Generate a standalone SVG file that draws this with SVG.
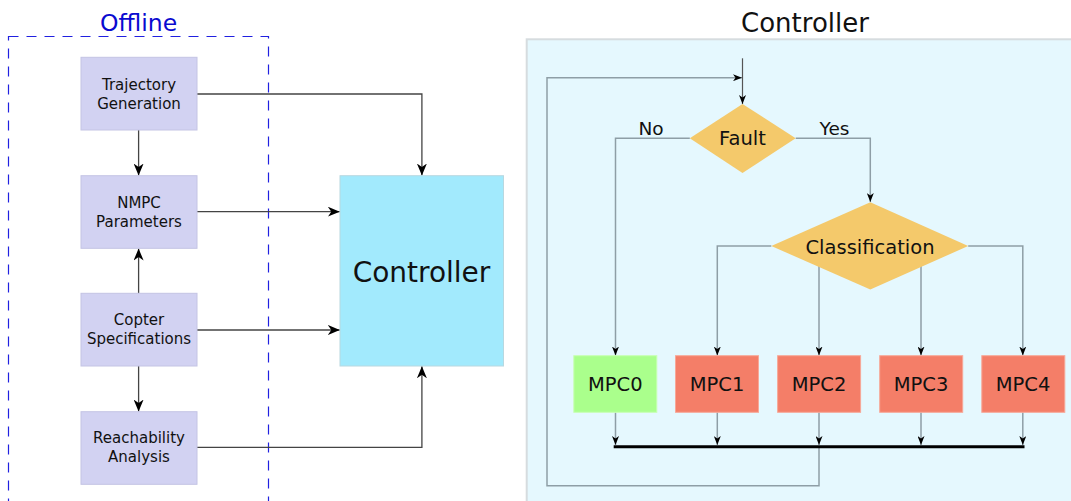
<svg xmlns="http://www.w3.org/2000/svg" width="1071" height="501" viewBox="0 0 1071 501">
<defs>
<style>
text{font-family:"DejaVu Sans","Liberation Sans",sans-serif;fill:#111;text-anchor:middle}
.off{fill:#d2d2f2;stroke:#c4c4e4;stroke-width:1}
.lc{fill:none;stroke:#444;stroke-width:1.3}
.rc{fill:none;stroke:#8e9ea6;stroke-width:1.5}
.dia{fill:#f4c96b}
.red{fill:#f47e68;stroke:#f7a898;stroke-width:1}
.grn{fill:#aaff8c;stroke:#c8ffb4;stroke-width:1}
.nt{font-size:15px}
.mt{font-size:19.5px}
</style>
<marker id="a1" viewBox="0 0 12 10" markerWidth="12" markerHeight="10" refX="12" refY="5" orient="auto" markerUnits="userSpaceOnUse">
<path d="M0,0 L12,5 L0,10 L3.5,5 z" fill="#000"/>
</marker>
<marker id="a2" viewBox="0 0 9 7" markerWidth="9" markerHeight="7" refX="9" refY="3.5" orient="auto" markerUnits="userSpaceOnUse">
<path d="M0,0 L9,3.5 L0,7 L2.5,3.5 z" fill="#000"/>
</marker>
</defs>
<rect width="1071" height="501" fill="#fff"/>

<g id="offline-group">
<rect x="8.5" y="36.5" width="260" height="480" fill="none" stroke="#2020e0" stroke-width="1.2" stroke-dasharray="10,8"/>
<text x="138.6" y="30.5" style="font-size:23.5px;fill:#0a0ad0">Offline</text>
</g>

<g id="controller-panel">
<rect x="526.7" y="39.3" width="560" height="480" fill="#e5f8fe" stroke="#d6dcdf" stroke-width="2"/>
<text x="805" y="31.7" style="font-size:26px">Controller</text>
</g>

<g id="connectors">
<path class="lc" d="M196.8,94 H421.9 V175.5" marker-end="url(#a1)"/>
<path class="lc" d="M196.8,211.7 H339.8" marker-end="url(#a1)"/>
<path class="lc" d="M196.8,330 H339.8" marker-end="url(#a1)"/>
<path class="lc" d="M196.8,447.3 H421.9 V366.3" marker-end="url(#a1)"/>
<path class="lc" d="M138.6,130 V175.5" marker-end="url(#a1)"/>
<path class="lc" d="M138.6,293.3 V248.5" marker-end="url(#a1)"/>
<path class="lc" d="M138.6,366 V411.5" marker-end="url(#a1)"/>

<path class="rc" d="M742.5,58.3 V104" marker-end="url(#a2)" style="stroke:#555;stroke-width:1.2"/>
<path class="rc" d="M819,446 V485.7 H547 V77.7 H742" marker-end="url(#a2)"/>
<path class="rc" d="M689.8,138.3 H615.5 V355.5" marker-end="url(#a2)"/>
<path class="rc" d="M795.7,138.3 H870.3 V202" marker-end="url(#a2)"/>
<path class="rc" d="M771.3,246 H717.3 V355.5" marker-end="url(#a2)"/>
<path class="rc" d="M968.2,246 H1022.8 V355.5" marker-end="url(#a2)"/>
<path class="rc" d="M819,266 V355.5" marker-end="url(#a2)"/>
<path class="rc" d="M921,266 V355.5" marker-end="url(#a2)"/>
<path class="rc" d="M615.5,412.3 V445" marker-end="url(#a2)"/>
<path class="rc" d="M717.3,412.3 V445" marker-end="url(#a2)"/>
<path class="rc" d="M819,412.3 V445" marker-end="url(#a2)"/>
<path class="rc" d="M921,412.3 V445" marker-end="url(#a2)"/>
<path class="rc" d="M1022.8,412.3 V445" marker-end="url(#a2)"/>
<line x1="613.7" y1="446.7" x2="1024.5" y2="446.7" stroke="#000" stroke-width="3"/>
<text x="651" y="135" style="font-size:18.5px">No</text>
<text x="834.5" y="135" style="font-size:18.5px">Yes</text>
</g>

<g id="trajectory-generation">
<rect class="off" x="81" y="57.3" width="116" height="72.7"/>
<text class="nt" x="139" y="90.3">Trajectory</text>
<text class="nt" x="139" y="108.8">Generation</text>
</g>
<g id="nmpc-parameters">
<rect class="off" x="81" y="175.7" width="116" height="72.6"/>
<text class="nt" x="139" y="208.3">NMPC</text>
<text class="nt" x="139" y="227">Parameters</text>
</g>
<g id="copter-specifications">
<rect class="off" x="81" y="293.3" width="116" height="72.7"/>
<text class="nt" x="139" y="325.3">Copter</text>
<text class="nt" x="139" y="344">Specifications</text>
</g>
<g id="reachability-analysis">
<rect class="off" x="81" y="411.7" width="116" height="72.6"/>
<text class="nt" x="139" y="443.3">Reachability</text>
<text class="nt" x="139" y="461.7">Analysis</text>
</g>
<g id="controller">
<rect x="340" y="175.7" width="163.5" height="190.3" fill="#a2eafd" stroke="#b8d8e0" stroke-width="1"/>
<text x="421.5" y="281.7" style="font-size:28px">Controller</text>
</g>

<g id="fault">
<polygon class="dia" points="742.5,104 795.7,138.3 742.5,173 689.8,138.3"/>
<text class="mt" x="742.5" y="144.8">Fault</text>
</g>
<g id="classification">
<polygon class="dia" points="870.3,202.3 968.2,246 870.3,289.5 771.3,246"/>
<text class="mt" x="870" y="253.5">Classification</text>
</g>

<g id="mpc0">
<rect class="grn" x="573.8" y="355.7" width="83" height="56.6"/>
<text class="mt" x="615.3" y="390.8">MPC0</text>
</g>
<g id="mpc1">
<rect class="red" x="675.5" y="355.7" width="83" height="56.6"/>
<text class="mt" x="717" y="390.8">MPC1</text>
</g>
<g id="mpc2">
<rect class="red" x="777.6" y="355.7" width="83" height="56.6"/>
<text class="mt" x="819" y="390.8">MPC2</text>
</g>
<g id="mpc3">
<rect class="red" x="879.7" y="355.7" width="83" height="56.6"/>
<text class="mt" x="921" y="390.8">MPC3</text>
</g>
<g id="mpc4">
<rect class="red" x="981.8" y="355.7" width="83" height="56.6"/>
<text class="mt" x="1023" y="390.8">MPC4</text>
</g>
</svg>
